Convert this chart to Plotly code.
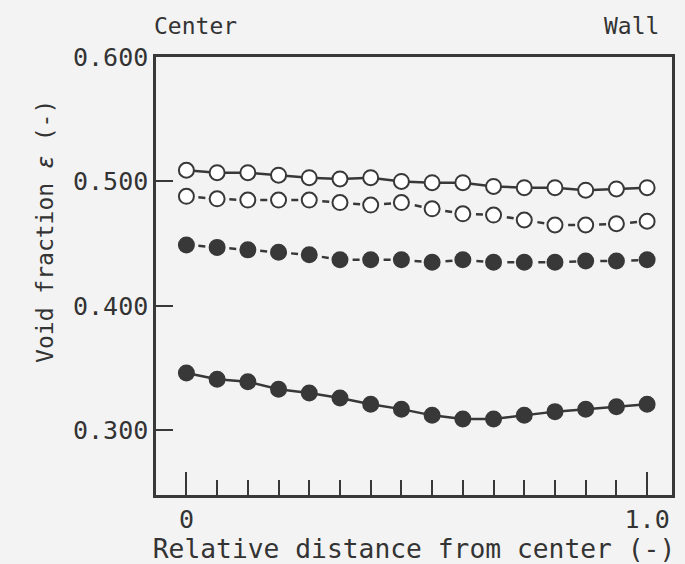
import plotly.graph_objects as go

x_pos = [i / 15 for i in range(16)]

open_solid = [0.509, 0.507, 0.507, 0.505, 0.503, 0.502, 0.503, 0.500,
              0.499, 0.499, 0.496, 0.495, 0.495, 0.493, 0.494, 0.495]
open_dashed = [0.488, 0.486, 0.485, 0.485, 0.485, 0.483, 0.481, 0.483,
               0.478, 0.474, 0.473, 0.469, 0.465, 0.465, 0.466, 0.468]
filled_dashed = [0.449, 0.447, 0.445, 0.443, 0.441, 0.437, 0.437, 0.437,
                 0.435, 0.437, 0.435, 0.435, 0.435, 0.436, 0.436, 0.437]
filled_solid = [0.346, 0.341, 0.339, 0.333, 0.330, 0.326, 0.321, 0.317,
                0.312, 0.309, 0.309, 0.312, 0.315, 0.317, 0.319, 0.321]

y_ticks = [0.3, 0.4, 0.5, 0.6]
y_tick_labels = ["0.300", "0.400", "0.500", "0.600"]
x_ticks = [0, 1]
x_tick_labels = ["0", "1.0"]

INK = "#383838"
BG = "#f3f3f3"
FONT = "DejaVu Sans Mono"
DASH = "0px,12px,7px,12px"

fig = go.Figure()

def add(y, filled, dashed):
    fig.add_trace(go.Scatter(
        x=x_pos, y=y, mode="lines+markers",
        line=dict(color=INK, width=2.5, dash=DASH if dashed else "solid"),
        marker=dict(size=15, color=INK if filled else "white",
                    line=dict(color=INK, width=2)),
        showlegend=False,
    ))

add(filled_solid, True, False)
add(filled_dashed, True, True)
add(open_dashed, False, True)
add(open_solid, False, False)

fig.update_layout(
    width=685, height=564,
    margin=dict(l=156, r=10, t=57, b=67),
    paper_bgcolor=BG, plot_bgcolor=BG,
    font=dict(family=FONT, size=24, color="#333"),
    xaxis=dict(
        range=[-0.066, 1.054], tickmode="array", tickvals=x_ticks,
        ticktext=x_tick_labels, ticks="inside", ticklen=23, tickwidth=2,
        tickcolor=INK, showgrid=False, zeroline=False,
        showline=True, linecolor=INK, linewidth=2.5, mirror=True,
        minor=dict(tickmode="linear", tick0=0, dtick=1/15, ticks="inside",
                   ticklen=15, tickwidth=2, tickcolor=INK, showgrid=False),
        title=dict(text="Relative distance from center (-)", standoff=2,
                   font=dict(size=26.3)),
        tickfont=dict(size=25),
    ),
    yaxis=dict(
        range=[0.248, 0.6], tickmode="array", tickvals=y_ticks,
        ticktext=y_tick_labels, ticks="inside", ticklen=17, tickwidth=2,
        tickcolor=INK, showgrid=False, zeroline=False,
        showline=True, linecolor=INK, linewidth=2.5, mirror=True,
        tickfont=dict(size=25),
    ),
    annotations=[
        dict(text="Center", x=0, y=1, xref="paper", yref="paper",
             xanchor="left", yanchor="bottom", xshift=-4, yshift=16,
             showarrow=False, font=dict(size=23)),
        dict(text="Wall", x=1, y=1, xref="paper", yref="paper",
             xanchor="right", yanchor="bottom", xshift=-11, yshift=16,
             showarrow=False, font=dict(size=23)),
        dict(text="Void fraction <i>ε</i> (-)", x=-0.214, y=0.602,
             xref="paper", yref="paper", xanchor="center", yanchor="middle",
             textangle=-90, showarrow=False, font=dict(size=23)),
    ],
)

fig.write_html("out.html")
